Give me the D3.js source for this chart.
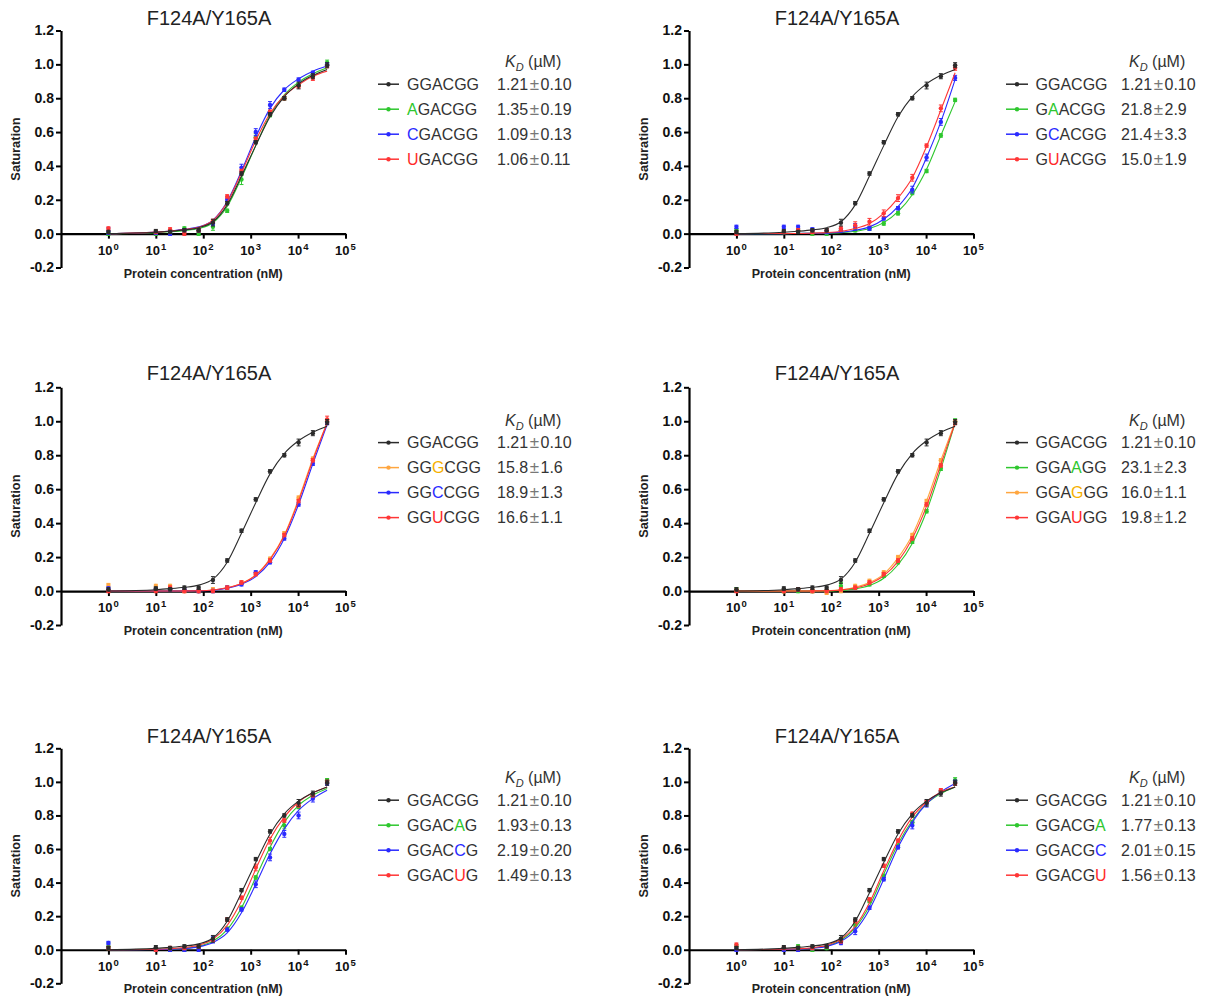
<!DOCTYPE html>
<html><head><meta charset="utf-8">
<script src="https://cdn.jsdelivr.net/npm/d3@7"></script>
<style>
body{margin:0;background:#fff;}
svg{display:block;font-family:"Liberation Sans",Arial,Helvetica,sans-serif;}
</style>
</head><body>
<svg id="chart" width="1210" height="998"></svg>
<script>
// ---------- DATA ----------
const conc = [1,10,20,40,80,160,320,640,1280,2560,5120,10240,20480,40960];
const yTickValues = [-0.2,0,0.2,0.4,0.6,0.8,1.0,1.2];
const xTickExponents = [0,1,2,3,4,5];
const titleText = "F124A/Y165A";
const xAxisTitle = "Protein concentration (nM)";
const yAxisTitle = "Saturation";

// reference GGACGG (black, shared by all panels)
const refPts = [0.01,0.015,0.01,0.02,0.02,0.065,0.18,0.355,0.54,0.705,0.80,0.875,0.93,0.995];
const refErr = [0.01,0.01,0.01,0.01,0.01,0.02,0.01,0.01,0.01,0.01,0.01,0.02,0.015,0.015];
const refFit = [0.0,0.008,0.014,0.022,0.035,0.07,0.17,0.34,0.52,0.69,0.81,0.885,0.935,0.97];

// panel 1 (5' position)
const p1Seq = ["GGACGG","AGACGG","CGACGG","UGACGG"];
const p1Mut = [-1,0,0,0];
const p1KD = ["1.21","1.35","1.09","1.06"];
const p1KDErr = ["0.10","0.19","0.13","0.11"];
const p1Colors = ["black","green","blue","red"];
const p1GreenPts = [0.0,0.0,0.01,0.03,0.0,0.04,0.135,0.32,0.57,0.70,0.80,0.88,0.94,1.01];
const p1GreenErr = [0.01,0.01,0.01,0.01,0.01,0.02,0.01,0.03,0.02,0.01,0.01,0.01,0.01,0.015];
const p1GreenFit = [0.0,0.006,0.011,0.018,0.03,0.064,0.16,0.33,0.52,0.70,0.82,0.895,0.945,0.98];
const p1BluePts = [0.015,0.005,0.0,0.02,0.02,0.06,0.20,0.39,0.60,0.76,0.85,0.91,0.95,1.0];
const p1BlueErr = [0.02,0.01,0.01,0.01,0.01,0.01,0.01,0.02,0.02,0.02,0.01,0.01,0.01,0.01];
const p1BlueFit = [0.0,0.009,0.016,0.025,0.04,0.08,0.19,0.37,0.57,0.74,0.85,0.915,0.96,0.99];
const p1RedPts = [0.03,0.01,0.025,0.0,0.02,0.075,0.22,0.37,0.56,0.72,0.80,0.87,0.92,0.99];
const p1RedErr = [0.01,0.01,0.01,0.01,0.01,0.01,0.01,0.01,0.01,0.01,0.01,0.01,0.015,0.01];
const p1RedFit = [0.0,0.009,0.015,0.024,0.038,0.078,0.185,0.36,0.55,0.71,0.815,0.88,0.93,0.96];

// panel 2
const p2Seq = ["GGACGG","GAACGG","GCACGG","GUACGG"];
const p2Mut = [-1,1,1,1];
const p2KD = ["1.21","21.8","21.4","15.0"];
const p2KDErr = ["0.10","2.9","3.3","1.9"];
const p2Colors = ["black","green","blue","red"];
const p2GreenPts = [0.02,0.01,0.02,0.0,0.0,0.02,0.02,0.03,0.06,0.12,0.24,0.37,0.58,0.79];
const p2GreenErr = [0.01,0.01,0.01,0.01,0.01,0.01,0.01,0.01,0.01,0.01,0.01,0.01,0.01,0.01];
const p2GreenFit = [0.0,0.0,0.001,0.002,0.003,0.006,0.014,0.03,0.065,0.13,0.23,0.38,0.58,0.78];
const p2BluePts = [0.04,0.04,0.04,0.025,0.01,0.02,0.04,0.03,0.09,0.15,0.26,0.45,0.66,0.92];
const p2BlueErr = [0.01,0.01,0.01,0.01,0.01,0.01,0.02,0.01,0.01,0.01,0.02,0.02,0.02,0.015];
const p2BlueFit = [0.0,0.0,0.001,0.002,0.004,0.008,0.02,0.04,0.085,0.16,0.27,0.45,0.66,0.91];
const p2RedPts = [0.0,0.01,0.02,0.01,0.02,0.03,0.05,0.07,0.12,0.21,0.33,0.52,0.74,0.98];
const p2RedErr = [0.01,0.01,0.01,0.01,0.01,0.01,0.02,0.02,0.02,0.02,0.02,0.01,0.02,0.015];
const p2RedFit = [0.0,0.001,0.001,0.003,0.006,0.013,0.03,0.06,0.12,0.21,0.33,0.515,0.73,0.95];

// panel 3
const p3Seq = ["GGACGG","GGGCGG","GGCCGG","GGUCGG"];
const p3Mut = [-1,2,2,2];
const p3KD = ["1.21","15.8","18.9","16.6"];
const p3KDErr = ["0.10","1.6","1.3","1.1"];
const p3Colors = ["black","orange","blue","red"];
const p3OrangePts = [0.035,0.03,0.03,0.0,0.0,0.01,0.02,0.05,0.10,0.19,0.34,0.55,0.78,1.0];
const p3OrangeErr = [0.01,0.01,0.01,0.01,0.01,0.01,0.01,0.01,0.01,0.01,0.01,0.01,0.01,0.015];
const p3OrangeFit = [0.0,0.0,0.0,0.001,0.002,0.006,0.02,0.045,0.095,0.19,0.33,0.54,0.78,0.99];
const p3BluePts = [0.015,0.01,0.01,0.01,0.0,0.0,0.02,0.04,0.11,0.17,0.31,0.51,0.75,0.99];
const p3BlueErr = [0.01,0.01,0.01,0.01,0.01,0.01,0.01,0.01,0.01,0.01,0.01,0.01,0.01,0.01];
const p3BlueFit = [0.0,0.0,0.0,0.001,0.002,0.005,0.017,0.04,0.085,0.17,0.31,0.51,0.75,0.98];
const p3RedPts = [0.0,0.0,0.02,0.0,0.0,0.0,0.02,0.05,0.10,0.18,0.33,0.53,0.77,1.01];
const p3RedErr = [0.01,0.01,0.01,0.01,0.01,0.01,0.01,0.01,0.01,0.01,0.01,0.01,0.01,0.02];
const p3RedFit = [0.0,0.0,0.0,0.001,0.002,0.006,0.019,0.044,0.093,0.185,0.325,0.53,0.77,0.99];

// panel 4
const p4Seq = ["GGACGG","GGAAGG","GGAGGG","GGAUGG"];
const p4Mut = [-1,3,3,3];
const p4KD = ["1.21","23.1","16.0","19.8"];
const p4KDErr = ["0.10","2.3","1.1","1.2"];
const p4Colors = ["black","green","orange","red"];
const p4GreenPts = [0.01,0.0,0.0,0.0,0.0,0.03,0.02,0.04,0.09,0.17,0.29,0.47,0.72,1.0];
const p4GreenErr = [0.01,0.01,0.01,0.01,0.01,0.02,0.01,0.01,0.01,0.01,0.01,0.01,0.01,0.015];
const p4GreenFit = [0.0,0.0,0.0,0.001,0.001,0.004,0.013,0.033,0.075,0.155,0.28,0.47,0.72,0.99];
const p4OrangePts = [0.005,0.0,0.01,0.0,-0.01,0.0,0.03,0.06,0.11,0.20,0.33,0.53,0.77,1.0];
const p4OrangeErr = [0.01,0.01,0.01,0.01,0.01,0.01,0.01,0.01,0.01,0.01,0.01,0.01,0.01,0.01];
const p4OrangeFit = [0.0,0.0,0.0,0.001,0.002,0.007,0.022,0.05,0.10,0.195,0.33,0.53,0.77,0.995];
const p4RedPts = [0.0,0.0,0.01,0.0,0.0,0.01,0.02,0.05,0.10,0.18,0.31,0.51,0.74,0.99];
const p4RedErr = [0.01,0.01,0.01,0.01,0.01,0.01,0.01,0.01,0.01,0.01,0.01,0.01,0.01,0.01];
const p4RedFit = [0.0,0.0,0.0,0.001,0.002,0.006,0.018,0.043,0.09,0.175,0.31,0.50,0.745,0.99];

// panel 5
const p5Seq = ["GGACGG","GGACAG","GGACCG","GGACUG"];
const p5Mut = [-1,4,4,4];
const p5KD = ["1.21","1.93","2.19","1.49"];
const p5KDErr = ["0.10","0.13","0.20","0.13"];
const p5Colors = ["black","green","blue","red"];
const p5GreenPts = [0.02,0.0,0.0,0.0,0.02,0.06,0.125,0.25,0.43,0.60,0.74,0.85,0.92,1.01];
const p5GreenErr = [0.02,0.01,0.01,0.01,0.01,0.01,0.01,0.01,0.01,0.01,0.02,0.01,0.01,0.01];
const p5GreenFit = [0.0,0.002,0.004,0.009,0.02,0.05,0.12,0.25,0.43,0.61,0.76,0.86,0.92,0.96];
const p5BluePts = [0.04,0.0,0.0,0.0,0.0,0.06,0.12,0.24,0.39,0.55,0.69,0.80,0.90,0.99];
const p5BlueErr = [0.01,0.01,0.01,0.01,0.01,0.02,0.01,0.01,0.02,0.02,0.02,0.02,0.02,0.01];
const p5BlueFit = [0.0,0.001,0.003,0.007,0.017,0.043,0.10,0.22,0.39,0.57,0.72,0.83,0.90,0.95];
const p5RedPts = [0.01,0.0,0.01,0.01,0.02,0.06,0.18,0.31,0.49,0.65,0.77,0.86,0.92,1.0];
const p5RedErr = [0.01,0.01,0.01,0.01,0.01,0.01,0.01,0.01,0.02,0.02,0.01,0.01,0.01,0.01];
const p5RedFit = [0.0,0.003,0.006,0.013,0.027,0.062,0.145,0.29,0.48,0.66,0.79,0.88,0.935,0.97];

// panel 6
const p6Seq = ["GGACGG","GGACGA","GGACGC","GGACGU"];
const p6Mut = [-1,5,5,5];
const p6KD = ["1.21","1.77","2.01","1.56"];
const p6KDErr = ["0.10","0.13","0.15","0.13"];
const p6Colors = ["black","green","blue","red"];
const p6GreenPts = [0.02,0.0,0.02,0.0,0.01,0.06,0.15,0.29,0.44,0.62,0.76,0.87,0.94,1.01];
const p6GreenErr = [0.01,0.01,0.01,0.01,0.01,0.01,0.01,0.01,0.01,0.01,0.01,0.01,0.01,0.015];
const p6GreenFit = [0.0,0.002,0.004,0.01,0.023,0.056,0.13,0.26,0.45,0.63,0.77,0.87,0.93,0.97];
const p6BluePts = [0.0,0.0,0.0,0.01,0.02,0.04,0.11,0.25,0.42,0.61,0.74,0.87,0.94,1.0];
const p6BlueErr = [0.01,0.01,0.01,0.01,0.01,0.01,0.02,0.01,0.01,0.01,0.02,0.02,0.01,0.01];
const p6BlueFit = [0.0,0.002,0.004,0.009,0.02,0.05,0.115,0.24,0.42,0.61,0.76,0.87,0.94,0.99];
const p6RedPts = [0.03,0.01,0.01,0.01,0.02,0.05,0.17,0.30,0.50,0.65,0.81,0.88,0.95,0.99];
const p6RedErr = [0.01,0.01,0.01,0.01,0.01,0.01,0.01,0.01,0.01,0.01,0.01,0.01,0.01,0.01];
const p6RedFit = [0.0,0.003,0.006,0.012,0.027,0.064,0.14,0.28,0.47,0.65,0.79,0.88,0.94,0.97];

// ---------- STYLE / LAYOUT ----------
const lineColor = {black:"#2b2b2b", green:"#2ec72e", blue:"#2a2aff", red:"#ff3636", orange:"#ffa640"};
const letterColor = {black:"#333", green:"#2ec72e", blue:"#2a2aff", red:"#ff2a2a", orange:"#f5b000"};

const panels = [
  {seq:p1Seq, mut:p1Mut, kd:p1KD, kdErr:p1KDErr, colors:p1Colors,
   pts:[refPts,p1GreenPts,p1BluePts,p1RedPts], err:[refErr,p1GreenErr,p1BlueErr,p1RedErr], fit:[refFit,p1GreenFit,p1BlueFit,p1RedFit]},
  {seq:p2Seq, mut:p2Mut, kd:p2KD, kdErr:p2KDErr, colors:p2Colors,
   pts:[refPts,p2GreenPts,p2BluePts,p2RedPts], err:[refErr,p2GreenErr,p2BlueErr,p2RedErr], fit:[refFit,p2GreenFit,p2BlueFit,p2RedFit]},
  {seq:p3Seq, mut:p3Mut, kd:p3KD, kdErr:p3KDErr, colors:p3Colors,
   pts:[refPts,p3OrangePts,p3BluePts,p3RedPts], err:[refErr,p3OrangeErr,p3BlueErr,p3RedErr], fit:[refFit,p3OrangeFit,p3BlueFit,p3RedFit]},
  {seq:p4Seq, mut:p4Mut, kd:p4KD, kdErr:p4KDErr, colors:p4Colors,
   pts:[refPts,p4GreenPts,p4OrangePts,p4RedPts], err:[refErr,p4GreenErr,p4OrangeErr,p4RedErr], fit:[refFit,p4GreenFit,p4OrangeFit,p4RedFit]},
  {seq:p5Seq, mut:p5Mut, kd:p5KD, kdErr:p5KDErr, colors:p5Colors,
   pts:[refPts,p5GreenPts,p5BluePts,p5RedPts], err:[refErr,p5GreenErr,p5BlueErr,p5RedErr], fit:[refFit,p5GreenFit,p5BlueFit,p5RedFit]},
  {seq:p6Seq, mut:p6Mut, kd:p6KD, kdErr:p6KDErr, colors:p6Colors,
   pts:[refPts,p6GreenPts,p6BluePts,p6RedPts], err:[refErr,p6GreenErr,p6BlueErr,p6RedErr], fit:[refFit,p6GreenFit,p6BlueFit,p6RedFit]}
];

const colX0 = [61, 689];
const plotW = 284.5;
const rowTop = [30.5, 387.3, 748.3];
const rowBot = [267.5, 625, 983.3];
const rowTitleY = [25, 380, 742.5];
const rowLegendY = [84.2, 442.6, 800.2];
const legendCol = [
  {l0:378, l1:399, seq:407, val:497, kd:505},
  {l0:1006, l1:1028, seq:1035.5, val:1121, kd:1129}
];

const svg = d3.select("#chart");

panels.forEach((P, i) => {
  const r = Math.floor(i/2), c = i%2;
  const x0 = colX0[c];
  const x = d3.scaleLog().domain([0.1, 1e5]).range([x0, x0 + plotW]);
  const y = d3.scaleLinear().domain([-0.2, 1.2]).range([rowBot[r], rowTop[r]]);
  const g = svg.append("g");

  // title
  g.append("text").attr("x", x0 + 148).attr("y", rowTitleY[r])
    .attr("text-anchor","middle").attr("font-size",20).attr("fill","#222")
    .text(titleText);

  // y axis
  const ya = g.append("g").attr("transform",`translate(${x0},0)`)
    .call(d3.axisLeft(y).tickValues(yTickValues).tickSize(5).tickSizeOuter(0).tickPadding(2)
      .tickFormat(d => d.toFixed(1)));
  ya.select(".domain").attr("stroke","#000").attr("stroke-width",2.2);
  ya.selectAll(".tick line").attr("stroke","#000").attr("stroke-width",2);
  ya.selectAll(".tick text").attr("font-size",14).attr("font-weight","bold")
    .attr("fill","#111").attr("font-family","Liberation Sans, Arial, sans-serif");

  // x axis at y=0
  const xa = g.append("g").attr("transform",`translate(0,${y(0)})`)
    .call(d3.axisBottom(x).tickValues(xTickExponents.map(e => Math.pow(10,e)))
      .tickSize(5).tickSizeOuter(0).tickFormat(""));
  xa.select(".domain").attr("stroke","#000").attr("stroke-width",2.2);
  xa.selectAll(".tick line").attr("stroke","#000").attr("stroke-width",2);
  xTickExponents.forEach(e => {
    const t = g.append("text").attr("x", x(Math.pow(10,e))).attr("y", y(0) + 21)
      .attr("text-anchor","middle").attr("font-weight","bold").attr("fill","#111");
    t.append("tspan").attr("font-size",13).text("10");
    t.append("tspan").attr("font-size",9.5).attr("dy",-5).attr("dx",1).text(String(e));
  });

  // axis titles
  g.append("text").attr("x", x0 + plotW/2).attr("y", rowBot[r] + 10)
    .attr("text-anchor","middle").attr("font-size",12.5).attr("font-weight","bold").attr("fill","#222")
    .text(xAxisTitle);
  const ym = (rowTop[r] + rowBot[r]) / 2;
  g.append("text").attr("transform",`translate(${x0 - 41},${ym}) rotate(-90)`)
    .attr("text-anchor","middle").attr("font-size",12.8).attr("font-weight","bold").attr("fill","#222")
    .text(yAxisTitle);

  // series: draw colored first, black last
  const order = [1,2,3,0];
  const line = d3.line().x((d,k) => x(conc[k])).y(d => y(d)).curve(d3.curveMonotoneX);
  order.forEach(s => {
    const col = lineColor[P.colors[s]];
    g.append("path").datum(P.fit[s]).attr("d", line)
      .attr("fill","none").attr("stroke", col).attr("stroke-width", 1.1);
    const pts = P.pts[s].map((v,k) => ({x: conc[k], v, e: P.err[s][k]}));
    const eb = g.append("g").attr("stroke", col).attr("stroke-width", 1);
    eb.selectAll("line.v").data(pts).join("line").attr("class","v")
      .attr("x1", d => x(d.x)).attr("x2", d => x(d.x))
      .attr("y1", d => y(d.v - d.e)).attr("y2", d => y(d.v + d.e));
    eb.selectAll("line.t").data(pts).join("line").attr("class","t")
      .attr("x1", d => x(d.x) - 2).attr("x2", d => x(d.x) + 2)
      .attr("y1", d => y(d.v + d.e)).attr("y2", d => y(d.v + d.e));
    eb.selectAll("line.b").data(pts).join("line").attr("class","b")
      .attr("x1", d => x(d.x) - 2).attr("x2", d => x(d.x) + 2)
      .attr("y1", d => y(d.v - d.e)).attr("y2", d => y(d.v - d.e));
    g.append("g").selectAll("circle").data(pts).join("circle")
      .attr("cx", d => x(d.x)).attr("cy", d => y(d.v)).attr("r", 2.2).attr("fill", col);
  });

  // legend
  const L = legendCol[c];
  const ly0 = rowLegendY[r];
  const kdT = g.append("text").attr("x", L.kd).attr("y", ly0 - 22.5 + 5.5)
    .attr("font-size",16).attr("fill","#333");
  kdT.append("tspan").attr("font-style","italic").text("K");
  kdT.append("tspan").attr("font-style","italic").attr("font-size",11).attr("dy",4).text("D");
  kdT.append("tspan").attr("dy",-4).text(" (\u00B5M)");

  P.seq.forEach((sq, s) => {
    const cy = ly0 + s * 25;
    const col = lineColor[P.colors[s]];
    g.append("line").attr("x1", L.l0).attr("x2", L.l1).attr("y1", cy).attr("y2", cy)
      .attr("stroke", col).attr("stroke-width", 1.5);
    g.append("circle").attr("cx", (L.l0 + L.l1)/2).attr("cy", cy).attr("r", 2.2).attr("fill", col);
    const st = g.append("text").attr("x", L.seq).attr("y", cy + 5.8).attr("font-size",16).attr("fill","#333");
    sq.split("").forEach((ch, k) => {
      st.append("tspan").attr("fill", k === P.mut[s] ? letterColor[P.colors[s]] : "#333").text(ch);
    });
    const vt = g.append("text").attr("x", L.val).attr("y", cy + 5.8).attr("font-size",16).attr("fill","#333");
    vt.append("tspan").text(P.kd[s]);
    vt.append("tspan").attr("fill","#777").attr("font-size",17).attr("dx",1.5).text("\u00B1");
    vt.append("tspan").attr("dx",1.5).text(P.kdErr[s]);
  });
});
</script>
</body></html>
